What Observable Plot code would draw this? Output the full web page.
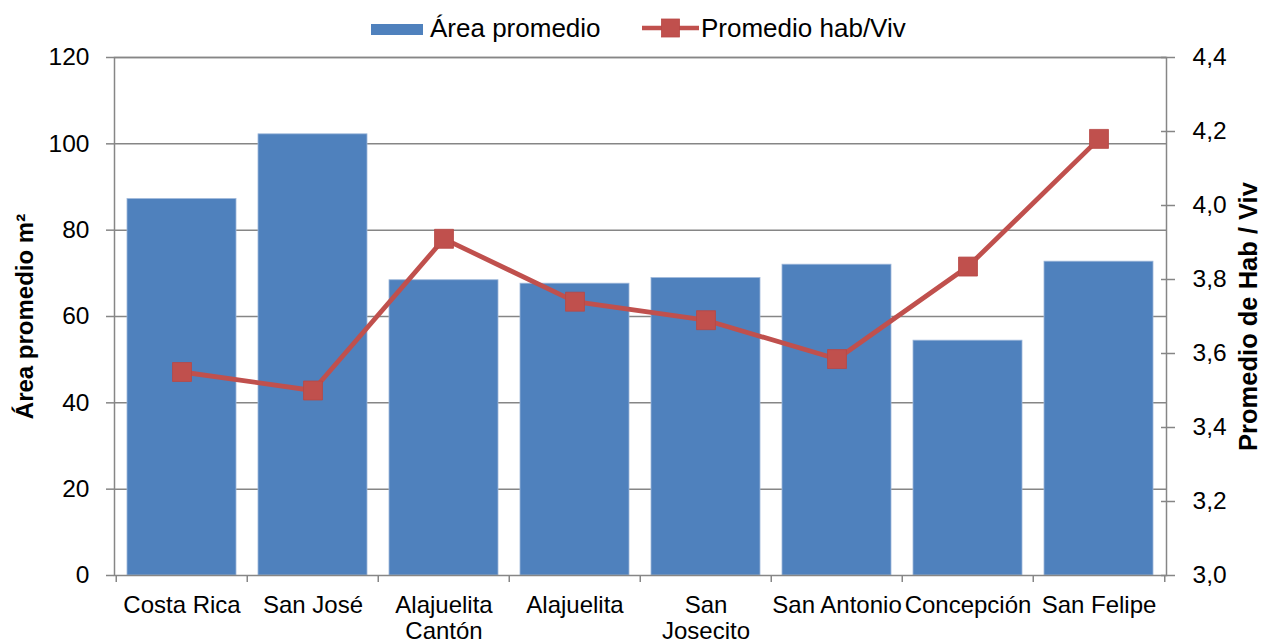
<!DOCTYPE html>
<html>
<head>
<meta charset="utf-8">
<script src="https://cdn.jsdelivr.net/npm/d3@7"></script>
<script src="https://cdn.jsdelivr.net/npm/@observablehq/plot@0.6"></script>
<style>
  body { margin: 0; background: #fff; font-family: "Liberation Sans", Arial, sans-serif; }
  #wrap { width: 1264px; }
  #legend { position: relative; height: 38px; width: 1264px; font-size: 26px; color: #000; }
  #legend .item { position: absolute; line-height: 1; white-space: nowrap; }
  #legend svg { position: absolute; overflow: visible; }
</style>
</head>
<body>
<div id="wrap">
  <div id="legend"></div>
  <div id="chart"></div>
</div>
<script>
// ---- Data ----
const categories = ["Costa Rica", "San José", "Alajuelita Cantón", "Alajuelita", "San Josecito", "San Antonio", "Concepción", "San Felipe"];
const tickLabels = ["Costa Rica", "San José", "Alajuelita\nCantón", "Alajuelita", "San\nJosecito", "San Antonio", "Concepción", "San Felipe"];
const areaPromedio = [87.2, 102.2, 68.4, 67.6, 68.9, 72.0, 54.4, 72.7];
const habViv = [3.55, 3.50, 3.91, 3.74, 3.69, 3.585, 3.835, 4.18];
const leftTicks = [0, 20, 40, 60, 80, 100, 120];
const rightTicks = [3.0, 3.2, 3.4, 3.6, 3.8, 4.0, 4.2, 4.4];
const seriesNames = ["Área promedio", "Promedio hab/Viv"];
const leftTitle = "Área promedio m²";
const rightTitle = "Promedio de Hab / Viv";

// ---- Dual-axis mapping ----
const leftDomain = [leftTicks[0], leftTicks[leftTicks.length - 1]];
const rightDomain = [rightTicks[0], rightTicks[rightTicks.length - 1]];
const toLeft = v => leftDomain[0] + (v - rightDomain[0]) / (rightDomain[1] - rightDomain[0]) * (leftDomain[1] - leftDomain[0]);
const fromLeft = v => rightDomain[0] + (v - leftDomain[0]) / (leftDomain[1] - leftDomain[0]) * (rightDomain[1] - rightDomain[0]);

const data = categories.map((c, i) => ({cat: c, area: areaPromedio[i], hab: habViv[i]}));
const labelOf = new Map(categories.map((c, i) => [c, tickLabels[i]]));

const BLUE = "#4F81BD", RED = "#C0504D", GRAY = "#868686";
const W = 1264, H = 605, ML = 114, MR = 98, MT = 19, MB = 68;
const step = (W - ML - MR) / categories.length;

const chart = Plot.plot({
  width: W, height: H,
  marginLeft: ML, marginRight: MR, marginTop: MT, marginBottom: MB,
  style: {fontFamily: '"Liberation Sans", Arial, sans-serif', background: "white", color: "black"},
  x: {type: "band", domain: categories, paddingInner: 0.167, paddingOuter: 0.0835},
  y: {domain: leftDomain},
  marks: [
    Plot.ruleY(leftTicks.filter(d => d > leftDomain[0]), {stroke: GRAY, strokeWidth: 1.5}),
    Plot.barY(data, {x: "cat", y: "area", fill: BLUE, stroke: "#9db7da", strokeWidth: 0.8}),
    Plot.frame({stroke: GRAY, strokeWidth: 1.5}),
    // left axis
    Plot.axisY({anchor: "left", ticks: leftTicks, tickSize: 8, tickPadding: 17, fontSize: 24.5, stroke: GRAY, strokeWidth: 1.5, fill: "black", label: null}),
    // right axis
    Plot.axisY({anchor: "right", ticks: rightTicks.map(toLeft), tickFormat: d => fromLeft(d).toFixed(1).replace(".", ","),
      tickSize: 14, dx: -6, tickPadding: 18, fontSize: 24.5, stroke: GRAY, strokeWidth: 1.5, fill: "black", label: null}),
    // category boundary ticks
    Plot.axisX({ticks: categories, tickSize: 7, dx: -step / 2, tickFormat: () => "", stroke: GRAY, strokeWidth: 1.5, label: null}),
    Plot.axisX({ticks: categories.slice(-1), tickSize: 7, dx: step / 2, tickFormat: () => "", stroke: GRAY, strokeWidth: 1.5, label: null}),
    // category labels
    Plot.axisX({tickSize: 0, tickPadding: 20, fontSize: 24, tickFormat: d => labelOf.get(d), fill: "black", label: null, lineHeight: 1.05}),
    // line series
    Plot.lineY(data, {x: "cat", y: d => toLeft(d.hab), stroke: RED, strokeWidth: 4.8}),
    Plot.dot(data, {x: "cat", y: d => toLeft(d.hab), symbol: "square", r: 10.7, fill: RED, stroke: "#b84845", strokeWidth: 0.8}),
    // axis titles
    Plot.text([leftTitle], {frameAnchor: "left", rotate: -90, dx: -89, fontSize: 24, fontWeight: "bold", textAnchor: "middle", lineAnchor: "middle", fill: "black"}),
    Plot.text([rightTitle], {frameAnchor: "right", rotate: -90, dx: 82, fontSize: 25.5, fontWeight: "bold", textAnchor: "middle", lineAnchor: "middle", fill: "black"})
  ]
});
document.getElementById("chart").appendChild(chart);

// ---- Legend (HTML, above the SVG) ----
const legend = document.getElementById("legend");
legend.innerHTML = `
  <div style="position:absolute;left:371px;top:24px;width:52px;height:11px;background:${BLUE}"></div>
  <div class="item" style="left:430px;top:15px">${seriesNames[0]}</div>
  <svg width="60" height="24" style="left:642px;top:17px">
    <line x1="0" y1="11" x2="57" y2="11" stroke="${RED}" stroke-width="4.5"/>
    <rect x="19.5" y="2" width="18" height="18" fill="${RED}" stroke="#b84845" stroke-width="0.8"/>
  </svg>
  <div class="item" style="left:701px;top:15px">${seriesNames[1]}</div>
`;
</script>
</body>
</html>
